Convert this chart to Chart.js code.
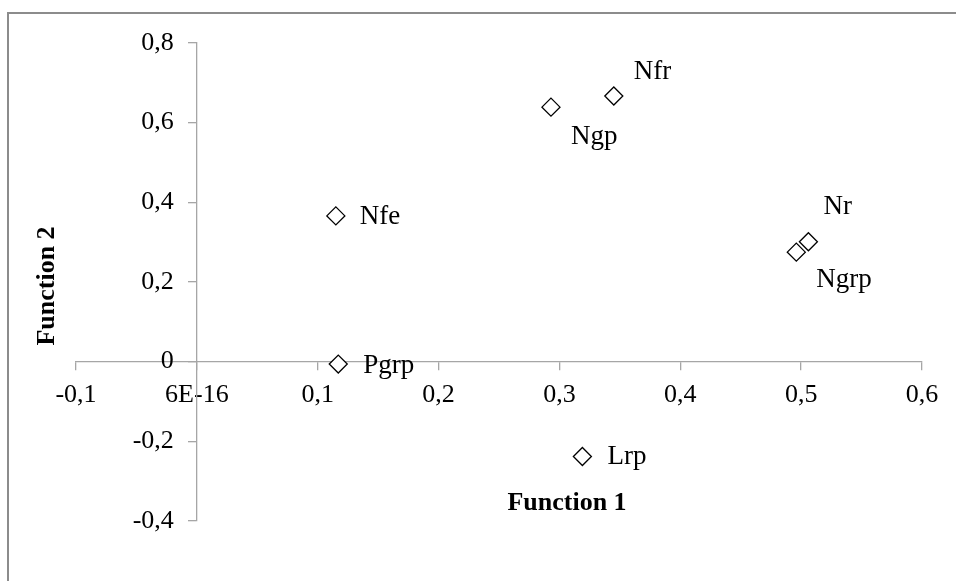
<!DOCTYPE html>
<html>
<head>
<meta charset="utf-8">
<script src="https://cdn.jsdelivr.net/npm/chart.js@4"></script>
<style>
  html, body { margin: 0; padding: 0; background: #fff; }
  #wrap { position: relative; width: 956px; height: 581px; }
  canvas { display: block; }
</style>
</head>
<body>
<div id="wrap"><canvas id="c" width="956" height="581"></canvas></div>
<script>
// ---- data ----
const pointNames = ['Nfe', 'Pgrp', 'Ngp', 'Nfr', 'Nr', 'Ngrp', 'Lrp'];
const function1 = [0.115, 0.117, 0.293, 0.345, 0.506, 0.496, 0.319];
const function2 = [0.366, -0.006, 0.639, 0.667, 0.301, 0.275, -0.238];
const xTickLabels = ['-0,1', '6E-16', '0,1', '0,2', '0,3', '0,4', '0,5', '0,6'];
const yTickLabels = ['-0,4', '-0,2', '0', '0,2', '0,4', '0,6', '0,8'];
const xTitle = 'Function 1';
const yTitle = 'Function 2';

// ---- label placement (style, px offsets from marker) ----
const labelOffsets = {
  Nfe: [24, 1], Pgrp: [25, 2], Ngp: [20, 30], Nfr: [20, -24],
  Nr: [15, -35], Ngrp: [20, 28], Lrp: [25, 0]
};

const FONT = "'Liberation Serif', 'Times New Roman', serif";
const AXIS = '#a6a6a6';
const Y_LABEL_GAP = 23; // tick length + padding left of the y axis

const points = pointNames.map((n, i) => ({ x: function1[i], y: function2[i], name: n }));

const decorPlugin = {
  id: 'decor',
  afterLayout(chart) {
    const ys = chart.scales.y;
    if (!ys._shiftPatched) {
      const orig = ys.drawLabels;
      ys.drawLabels = function (ca) {
        const ctx = this.ctx;
        ctx.save();
        ctx.translate(-Y_LABEL_GAP, 0);
        orig.call(this, ca);
        ctx.restore();
      };
      ys._shiftPatched = true;
    }
  },
  beforeDraw(chart) {
    const ctx = chart.ctx;
    ctx.save();
    ctx.strokeStyle = '#8c8c8c';
    ctx.lineWidth = 2;
    ctx.beginPath();
    ctx.moveTo(8, 600);
    ctx.lineTo(8, 13);
    ctx.lineTo(1000, 13);
    ctx.stroke();
    ctx.restore();
  },
  afterDatasetsDraw(chart) {
    const ctx = chart.ctx;
    const meta = chart.getDatasetMeta(0);
    ctx.save();
    ctx.fillStyle = '#000';
    ctx.font = '27px ' + FONT;
    ctx.textAlign = 'left';
    ctx.textBaseline = 'middle';
    meta.data.forEach((el, i) => {
      const name = pointNames[i];
      const off = labelOffsets[name] || [20, 0];
      ctx.fillText(name, el.x + off[0], el.y + off[1]);
    });
    // axis titles
    const ca = chart.chartArea;
    ctx.font = 'bold 26px ' + FONT;
    ctx.textAlign = 'center';
    ctx.fillText(xTitle, ca.left + 491, ca.top + 460);
    ctx.translate(ca.left - 29, ca.top + 243);
    ctx.rotate(-Math.PI / 2);
    ctx.fillText(yTitle, 0, 0);
    ctx.restore();
  }
};

new Chart(document.getElementById('c'), {
  type: 'scatter',
  data: {
    datasets: [{
      data: points,
      pointStyle: 'rectRot',
      pointRadius: 9,
      pointHoverRadius: 9,
      pointBackgroundColor: '#ffffff',
      pointBorderColor: '#000000',
      pointBorderWidth: 1.3,
      showLine: false
    }]
  },
  options: {
    responsive: false,
    animation: false,
    events: [],
    layout: { padding: { left: 76, right: 34, top: 43, bottom: 60 } },
    plugins: { legend: { display: false }, tooltip: { enabled: false }, title: { display: false } },
    scales: {
      x: {
        type: 'linear',
        position: { y: 0 },
        min: -0.1, max: 0.6,
        afterBuildTicks: (s) => { s.ticks = xTickLabels.map((_, i) => ({ value: Math.round((-0.1 + i * 0.1) * 10) / 10 })); },
        ticks: {
          autoSkip: false, maxRotation: 0, padding: 10, color: '#000',
          font: { family: FONT, size: 26 },
          callback: (v, i) => xTickLabels[i]
        },
        grid: { drawOnChartArea: false, drawTicks: true, tickLength: 8, color: AXIS, lineWidth: 1.3 },
        border: { display: true, color: AXIS, width: 1.3 }
      },
      y: {
        type: 'linear',
        position: { x: 0 },
        min: -0.4, max: 0.8,
        afterBuildTicks: (s) => { s.ticks = yTickLabels.map((_, i) => ({ value: Math.round((-0.4 + i * 0.2) * 10) / 10 })); },
        ticks: {
          autoSkip: false, padding: 14, color: '#000',
          font: { family: FONT, size: 26 },
          callback: (v, i) => yTickLabels[i]
        },
        grid: { drawOnChartArea: false, drawTicks: true, tickLength: 8, color: AXIS, lineWidth: 1.3 },
        border: { display: true, color: AXIS, width: 1.3 }
      }
    }
  },
  plugins: [decorPlugin]
});
</script>
</body>
</html>
